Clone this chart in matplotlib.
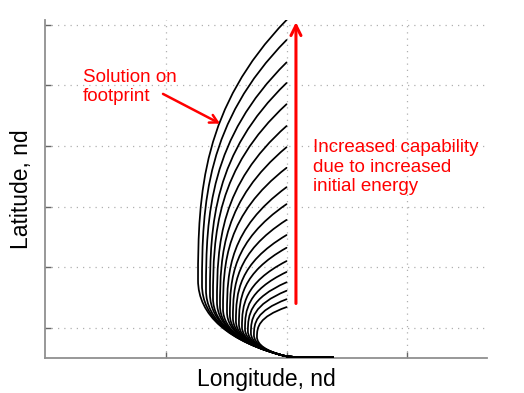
import matplotlib
matplotlib.use("Agg")
import matplotlib.pyplot as plt
from matplotlib.path import Path
from matplotlib.patches import PathPatch

plt.rcParams['font.family'] = ['Liberation Sans', 'DejaVu Sans']

# ---- data (nd units) ----
# common start of every trajectory (bottom right) and the point where the bundle fans out
start_lon, start_lat = 2.384, 0.01
merge_lon, merge_lat = 1.987, 0.033
# end points of each trajectory (all end at longitude 2.0)
end_lon = [2.0] * 19
end_lat = [5.58, 5.25, 4.88, 4.54, 4.19, 3.83, 3.48, 3.14, 2.82, 2.54,
           2.28, 2.03, 1.82, 1.60, 1.42, 1.25, 1.11, 0.97, 0.84]
# left-most point of each trajectory
left_lon = [1.267, 1.300, 1.333, 1.366, 1.391, 1.424, 1.449, 1.474, 1.507, 1.531,
            1.556, 1.581, 1.606, 1.631, 1.656, 1.680, 1.705, 1.730, 1.755]
left_lat = [1.287, 1.205, 1.122, 1.056, 0.990, 0.924, 0.858, 0.809, 0.759, 0.710,
            0.660, 0.611, 0.561, 0.512, 0.479, 0.446, 0.413, 0.380, 0.347]

x_ticks = [1, 2, 3]
y_ticks = [0.5, 1.5, 2.5, 3.5, 4.5, 5.5]

fig = plt.figure(figsize=(5.24, 3.93), dpi=100)
ax = fig.add_axes([0.0859, 0.0891, 0.8435, 0.8600])
ax.set_xlim(0, 3.66)
ax.set_ylim(0, 5.58)

tail_slope = 0.5   # lat gained per lon travelled leftwards at the merge point
k_turn = 0.65
c_top = 0.05

for xe, ye, xl, yl in zip(end_lon, end_lat, left_lon, left_lat):
    S = (start_lon, start_lat)
    S1 = (start_lon - 0.12, start_lat)
    M1 = (merge_lon + 0.06, merge_lat - 0.03)
    M = (merge_lon, merge_lat)
    corner = (xl, merge_lat + tail_slope * (merge_lon - xl))
    P1 = (M[0] + k_turn * (corner[0] - M[0]), M[1] + k_turn * (corner[1] - M[1]))
    P2 = (xl + k_turn * (corner[0] - xl), yl + k_turn * (corner[1] - yl))
    L = (xl, yl)
    H = ye - yl
    W = xe - xl
    Q1 = (xl, yl + H / 3)
    Q2 = (xl + c_top * W, yl + 2 * H / 3)
    E = (xe, ye)
    verts = [S, S1, M1, M, P1, P2, L, Q1, Q2, E]
    codes = [Path.MOVETO] + [Path.CURVE4] * 9
    ax.add_patch(PathPatch(Path(verts, codes), fill=False, edgecolor='black',
                           lw=1.25, capstyle='round', joinstyle='round', zorder=3))

ax.set_xticks(x_ticks)
ax.set_yticks(y_ticks)
ax.set_xticklabels([])
ax.set_yticklabels([])
ax.tick_params(direction='in', length=4, width=1, color='#666666')
ax.grid(True, linestyle=(0, (1, 4)), color='#b0b0b0', linewidth=0.9)
for s in ['top', 'right']:
    ax.spines[s].set_visible(False)
for s in ['left', 'bottom']:
    ax.spines[s].set_color('#909090')
    ax.spines[s].set_linewidth(1.3)

ax.set_xlabel('Longitude, nd', fontsize=16.5, labelpad=4)
ax.set_ylabel('Latitude, nd', fontsize=16.5, labelpad=5)

red = '#ff0000'
ax.annotate('', xy=(2.078, 5.545), xytext=(2.078, 0.90),
            arrowprops=dict(arrowstyle='->,head_length=0.4,head_width=0.2',
                            color=red, lw=2.2, mutation_scale=18,
                            shrinkA=0, shrinkB=0))
ax.annotate('', xy=(1.449, 3.87), xytext=(0.977, 4.36),
            arrowprops=dict(arrowstyle='->,head_length=0.4,head_width=0.22',
                            color=red, lw=1.8, mutation_scale=14,
                            shrinkA=0, shrinkB=0))
ax.text(0.315, 4.47, 'Solution on\nfootprint', color=red, fontsize=13.5,
        va='center', ha='left', linespacing=1.17)
ax.text(2.219, 3.15, 'Increased capability\ndue to increased\ninitial energy',
        color=red, fontsize=13.5, va='center', ha='left', linespacing=1.17)

fig.savefig('out.png', dpi=100)
